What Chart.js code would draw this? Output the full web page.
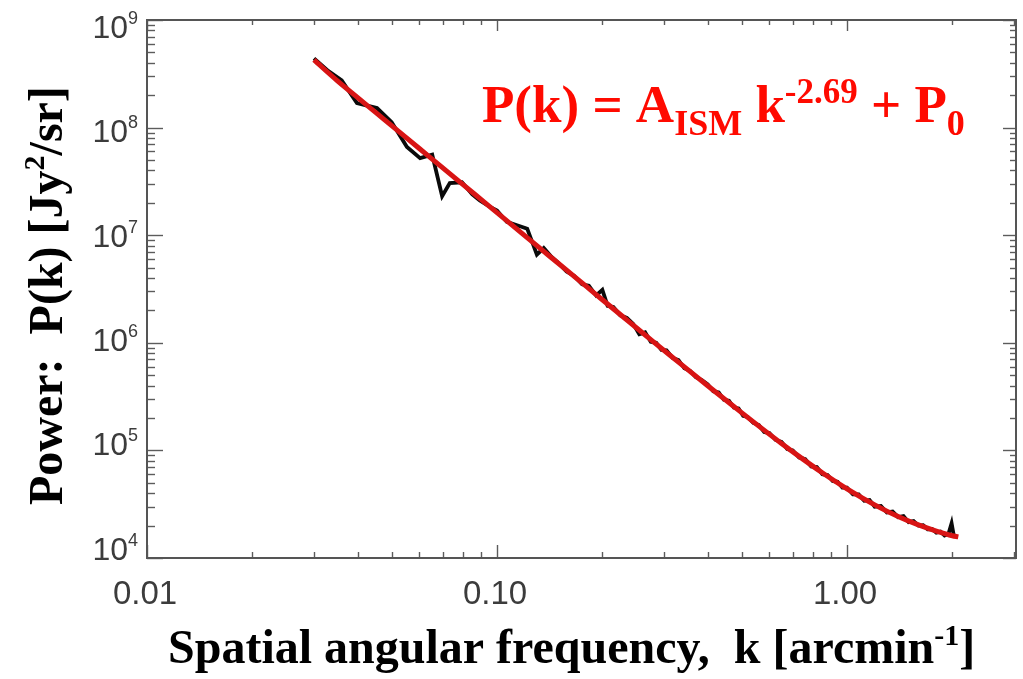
<!DOCTYPE html>
<html>
<head>
<meta charset="utf-8">
<script src="https://cdn.jsdelivr.net/npm/chart.js@4.4.1/dist/chart.umd.min.js"></script>
<style>
  html, body { margin: 0; padding: 0; background: #ffffff; }
  #wrap { width: 1023px; height: 679px; position: relative; }
</style>
</head>
<body>
<div id="wrap"><canvas id="c"></canvas></div>
<script>
// Measured power spectrum: spatial frequency k [arcmin^-1] and power [Jy^2/sr]
const kData = [
  0.030, 0.033, 0.036, 0.0398, 0.0454, 0.050, 0.0553, 0.0603, 0.0653, 0.0697,
  0.0733, 0.0794, 0.085, 0.0893, 0.095, 0.100, 0.1067, 0.113, 0.122, 0.130,
  0.136, 0.143, 0.150, 0.158, 0.166, 0.175, 0.183, 0.192, 0.200, 0.207,
  0.215, 0.225, 0.235, 0.245, 0.255, 0.265, 0.275, 0.285, 0.295, 0.305,
  0.318, 0.330, 0.343, 0.356, 0.370, 0.385, 0.400, 0.415, 0.430, 0.445,
  0.460, 0.475, 0.490, 0.505, 0.520, 0.540, 0.560, 0.580, 0.600, 0.625,
  0.650, 0.675, 0.700, 0.730, 0.760, 0.790, 0.820, 0.850, 0.880, 0.910,
  0.940, 0.970, 1.000, 1.040, 1.080, 1.120, 1.160, 1.200, 1.250, 1.300,
  1.350, 1.400, 1.450, 1.500, 1.550, 1.600, 1.650, 1.700, 1.750, 1.800,
  1.850, 1.900, 1.950, 1.990, 2.020
];
const powerData = [
  4.4e8, 3.35e8, 2.75e8, 1.69e8, 1.52e8, 1.12e8, 6.6e7, 5.2e7, 5.6e7, 2.3e7,
  3.05e7, 3.1e7, 2.4e7, 2.1e7, 1.85e7, 1.7e7, 1.33e7, 1.25e7, 1.15e7, 6.6e6,
  7.6e6, 6.3e6, 5.5e6, 4.6e6, 4.2e6, 3.5e6, 3.4e6, 2.75e6, 3.1e6, 2.2e6,
  2.15e6, 1.8e6, 1.7e6, 1.5e6, 1.2e6, 1.25e6, 1.02e6, 1.0e6, 8.6e5, 8.5e5,
  7.2e5, 6.9e5, 5.8e5, 5.5e5, 4.8e5, 4.5e5, 4.1e5, 3.55e5, 3.45e5, 2.95e5,
  2.9e5, 2.5e5, 2.45e5, 2.1e5, 2.05e5, 1.8e5, 1.72e5, 1.48e5, 1.45e5, 1.25e5,
  1.2e5, 1.03e5, 1.0e5, 8.6e4, 8.3e4, 7.1e4, 7.0e4, 6.0e4, 5.9e4, 5.2e4,
  5.1e4, 4.5e4, 4.5e4, 3.9e4, 3.9e4, 3.4e4, 3.45e4, 3.0e4, 3.05e4, 2.65e4,
  2.7e4, 2.4e4, 2.45e4, 2.15e4, 2.2e4, 2.0e4, 2.02e4, 1.85e4, 1.86e4, 1.72e4,
  1.76e4, 1.62e4, 1.68e4, 2.1e4, 1.6e4
];

// Fitted model P(k) = A_ISM k^-2.69 + P0, tabulated
const kFit = [
  0.030, 0.035, 0.040, 0.045, 0.050, 0.060, 0.070, 0.080, 0.090, 0.100,
  0.120, 0.140, 0.160, 0.180, 0.200, 0.240, 0.280, 0.330, 0.400, 0.480,
  0.560, 0.650, 0.750, 0.850, 1.000, 1.200, 1.400, 1.600, 1.800, 2.000, 2.080
];
const powerFit = [
  4.25e8, 2.72e8, 1.90e8, 1.385e8, 1.043e8, 6.39e7, 4.22e7, 2.95e7, 2.15e7, 1.62e7,
  9.9e6, 6.55e6, 4.58e6, 3.34e6, 2.51e6, 1.54e6, 1.02e6, 6.62e5, 3.99e5, 2.49e5,
  1.68e5, 1.16e5, 8.25e4, 6.2e4, 4.4e4, 3.12e4, 2.43e4, 2.03e4, 1.78e4, 1.61e4, 1.57e4
];

// Axis tick labels
const xTickValues = [0.01, 0.1, 1];
const xTickLabels = ['0.01', '0.10', '1.00'];
const yTickValues = [1e4, 1e5, 1e6, 1e7, 1e8, 1e9];
const yTickExponents = ['4', '5', '6', '7', '8', '9'];

const SERIF = '"Liberation Serif", "Times New Roman", serif';
const SANS = '"Liberation Sans", Arial, Helvetica, sans-serif';

function drawRuns(ctx, x, y, runs) {
  // runs: [text, fontPx, baselineShift, color]
  let cx = x;
  for (const [t, size, dy, color] of runs) {
    ctx.font = 'bold ' + size + 'px ' + SERIF;
    ctx.fillStyle = color;
    ctx.fillText(t, cx, y + dy);
    cx += ctx.measureText(t).width;
  }
  return cx;
}

const framePlugin = {
  id: 'framePlugin',
  afterDraw(chart) {
    const { ctx, chartArea: a } = chart;
    const xs = chart.scales.x, ys = chart.scales.y;
    ctx.save();

    // Axis ticks on all four sides, pointing inward
    ctx.strokeStyle = '#5c5c5c';
    ctx.lineWidth = 1.4;
    const seg = (x1, y1, x2, y2) => { ctx.beginPath(); ctx.moveTo(x1, y1); ctx.lineTo(x2, y2); ctx.stroke(); };
    for (let e = -2; e <= 0; e++) {
      for (let m = 1; m <= 9; m++) {
        const v = m * Math.pow(10, e);
        if (v < xs.min * 0.999 || v > xs.max * 1.001) continue;
        const px = Math.round(xs.getPixelForValue(v)) + 0.5;
        const major = m === 1;
        seg(px, a.bottom, px, a.bottom - (major ? 13 : 6));
        seg(px, a.top, px, a.top + (major ? 11 : 5));
      }
    }
    for (let e = 4; e <= 9; e++) {
      for (let m = 1; m <= 9; m++) {
        const v = m * Math.pow(10, e);
        if (v > ys.max * 1.001) continue;
        const py = Math.round(ys.getPixelForValue(v)) + 0.5;
        const major = m === 1;
        seg(a.left, py, a.left + (major ? 16 : 8), py);
        seg(a.right, py, a.right - (major ? 13 : 6), py);
      }
    }

    // Plot frame
    ctx.strokeStyle = '#555555';
    ctx.lineWidth = 2;
    ctx.strokeRect(a.left, a.top, a.right - a.left, a.bottom - a.top);

    // X tick labels
    ctx.fillStyle = '#3c3c3c';
    ctx.font = '33px ' + SANS;
    ctx.textAlign = 'center';
    ctx.textBaseline = 'alphabetic';
    xTickValues.forEach((v, i) => {
      ctx.fillText(xTickLabels[i], xs.getPixelForValue(v) - 2, a.bottom + 46);
    });

    // Y tick labels: 10 with superscript exponent
    ctx.textAlign = 'left';
    yTickValues.forEach((v, i) => {
      const py = ys.getPixelForValue(v);
      const base = py + 18 - (py - a.top) * 0.03;
      ctx.font = '18px ' + SANS;
      const wSup = ctx.measureText(yTickExponents[i]).width;
      ctx.font = '32px ' + SANS;
      const wMain = ctx.measureText('10').width;
      const right = a.left - 9;
      ctx.fillText('10', right - wSup - wMain, base);
      ctx.font = '18px ' + SANS;
      ctx.fillText(yTickExponents[i], right - wSup, base - 14);
    });

    // X axis title
    drawRuns(ctx, 168, 663, [
      ['Spatial angular frequency,  k [arcmin', 48, 0, '#000'],
      ['-1', 30, -18, '#000'],
      [']', 48, 0, '#000']
    ]);

    // Y axis title (rotated)
    ctx.save();
    ctx.translate(62, 505);
    ctx.rotate(-Math.PI / 2);
    drawRuns(ctx, 0, 0, [
      ['Power:  P(k) [Jy', 48, 0, '#000'],
      ['2', 30, -18, '#000'],
      ['/sr]', 48, 0, '#000']
    ]);
    ctx.restore();

    // Model annotation
    const red = '#ff0a00';
    drawRuns(ctx, 482, 122, [
      ['P(k) = A', 53, 0, red],
      ['ISM', 36, 13, red],
      [' k', 53, 0, red],
      ['-2.69', 35, -19, red],
      [' + P', 53, 0, red],
      ['0', 36, 13, red]
    ]);

    ctx.restore();
  }
};

const toPoints = (xsArr, ysArr) => xsArr.map((k, i) => ({ x: k, y: ysArr[i] }));

new Chart(document.getElementById('c'), {
  type: 'line',
  data: {
    datasets: [
      {
        label: 'Fit',
        data: toPoints(kFit, powerFit),
        borderColor: '#d81414',
        borderWidth: 5,
        pointRadius: 0,
        cubicInterpolationMode: 'monotone',
        fill: false,
        order: 0
      },
      {
        label: 'Power spectrum',
        data: toPoints(kData, powerData),
        borderColor: '#0a0a0a',
        borderWidth: 3.8,
        pointRadius: 0,
        tension: 0,
        fill: false,
        order: 1
      }
    ]
  },
  options: {
    responsive: true,
    maintainAspectRatio: false,
    animation: false,
    devicePixelRatio: 1,
    layout: { padding: { left: 147, right: 7, top: 20, bottom: 121 } },
    plugins: { legend: { display: false }, tooltip: { enabled: false } },
    scales: {
      x: { type: 'logarithmic', min: 0.01, max: 3.04, bounds: 'data', display: false },
      y: { type: 'logarithmic', min: 1e4, max: 1e9, bounds: 'data', display: false }
    }
  },
  plugins: [framePlugin]
});
</script>
</body>
</html>
